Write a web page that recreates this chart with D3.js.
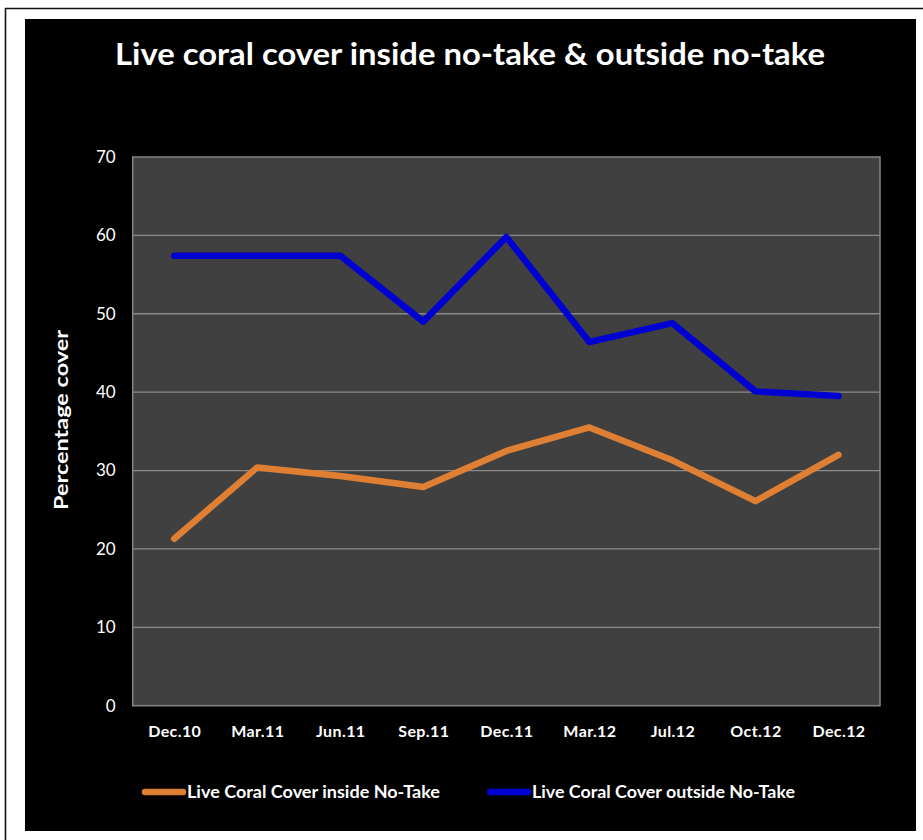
<!DOCTYPE html>
<html>
<head>
<meta charset="utf-8">
<script src="https://cdn.jsdelivr.net/npm/d3@7"></script>
<style>
  html, body { margin: 0; padding: 0; background: #ffffff; }
  svg { display: block; }
  text { font-family: Lato, "Open Sans", "DejaVu Sans", sans-serif; fill: #ffffff; }
</style>
</head>
<body>
<svg id="chart" width="923" height="840"></svg>
<script>
// Survey dates
const categories = ["Dec.10", "Mar.11", "Jun.11", "Sep.11", "Dec.11", "Mar.12", "Jul.12", "Oct.12", "Dec.12"];
// Live coral cover (%) inside the no-take zone
const insideNoTake = [21.3, 30.4, 29.3, 27.9, 32.5, 35.5, 31.3, 26.1, 32.0];
// Live coral cover (%) outside the no-take zone
const outsideNoTake = [57.4, 57.4, 57.4, 49.0, 59.8, 46.4, 48.8, 40.1, 39.5];
// Y-axis ticks
const yTicks = [0, 10, 20, 30, 40, 50, 60, 70];

const seriesNames = ["Live Coral Cover inside No-Take", "Live Coral Cover outside No-Take"];
const seriesColors = ["#df7f33", "#0000d2"];

const svg = d3.select("#chart");

// outer frame and black chart background
svg.append("path")
  .attr("d", "M5.5,840 L5.5,8.5 L923,8.5")
  .attr("fill", "none").attr("stroke", "#111").attr("stroke-width", 1.6);
svg.append("rect")
  .attr("x", 25).attr("y", 19).attr("width", 891).attr("height", 812)
  .attr("fill", "#000000");

const plot = { left: 132.7, right: 880, top: 157, bottom: 705.7 };

const x = d3.scalePoint().domain(categories).range([plot.left, plot.right]).padding(0.5);
const y = d3.scaleLinear().domain([0, 70]).range([plot.bottom, plot.top]);

// plot area
svg.append("rect")
  .attr("x", plot.left).attr("y", plot.top)
  .attr("width", plot.right - plot.left).attr("height", plot.bottom - plot.top)
  .attr("fill", "#404040");

// horizontal gridlines
svg.append("g").selectAll("line")
  .data(yTicks.filter(t => t > 0 && t < 70))
  .join("line")
  .attr("x1", plot.left).attr("x2", plot.right)
  .attr("y1", d => y(d)).attr("y2", d => y(d))
  .attr("stroke", "#8a8a8a").attr("stroke-width", 1.3);

svg.append("rect")
  .attr("x", plot.left).attr("y", plot.top)
  .attr("width", plot.right - plot.left).attr("height", plot.bottom - plot.top)
  .attr("fill", "none").attr("stroke", "#868686").attr("stroke-width", 1.5);

// y axis labels
const yAxis = d3.axisLeft(y).tickValues(yTicks).tickSize(0).tickPadding(17);
const gy = svg.append("g").attr("transform", `translate(${plot.left},0)`).call(yAxis);
gy.select(".domain").remove();
gy.selectAll("text")
  .attr("fill", "#ffffff")
  .style("font-family", "Lato, 'Open Sans', sans-serif")
  .style("font-size", "17px");

// x axis labels
const xAxis = d3.axisBottom(x).tickSize(0).tickPadding(20);
const gx = svg.append("g").attr("transform", `translate(0,${plot.bottom})`).call(xAxis);
gx.select(".domain").remove();
gx.selectAll("text")
  .attr("fill", "#ffffff")
  .style("font-family", "Lato, 'Open Sans', sans-serif")
  .style("font-size", "16px")
  .style("font-weight", "bold")
  .style("letter-spacing", "0.4px");

// series lines
const line = d3.line()
  .x((d, i) => x(categories[i]))
  .y(d => y(d));

[insideNoTake, outsideNoTake].forEach((vals, k) => {
  svg.append("path")
    .datum(vals)
    .attr("d", line)
    .attr("fill", "none")
    .attr("stroke", seriesColors[k])
    .attr("stroke-width", 6.5)
    .attr("stroke-linecap", "round")
    .attr("stroke-linejoin", "round");
});

// title
svg.append("text")
  .attr("x", 470).attr("y", 65)
  .attr("text-anchor", "middle")
  .attr("textLength", 710)
  .attr("lengthAdjust", "spacingAndGlyphs")
  .style("font-size", "31px")
  .style("font-weight", "bold")
  .text("Live coral cover inside no-take & outside no-take");

// y axis title
svg.append("text")
  .attr("transform", "translate(68,420) rotate(-90)")
  .attr("text-anchor", "middle")
  .attr("textLength", 180)
  .attr("lengthAdjust", "spacingAndGlyphs")
  .style("font-size", "19px")
  .style("font-weight", "bold")
  .text("Percentage cover");

// legend
const legendX = [145, 490];
const legendTextWidth = [253, 263];
const legend = svg.append("g").selectAll("g")
  .data(seriesNames)
  .join("g")
  .attr("transform", (d, i) => `translate(${legendX[i]},792)`);
legend.append("line")
  .attr("x1", 0).attr("x2", 38).attr("y1", 0).attr("y2", 0)
  .attr("stroke", (d, i) => seriesColors[i])
  .attr("stroke-width", 6.5)
  .attr("stroke-linecap", "round");
legend.append("text")
  .attr("x", 42).attr("y", 6)
  .attr("textLength", (d, i) => legendTextWidth[i])
  .attr("lengthAdjust", "spacingAndGlyphs")
  .style("font-size", "16.5px")
  .style("font-weight", "bold")
  .text(d => d);
</script>
</body>
</html>
